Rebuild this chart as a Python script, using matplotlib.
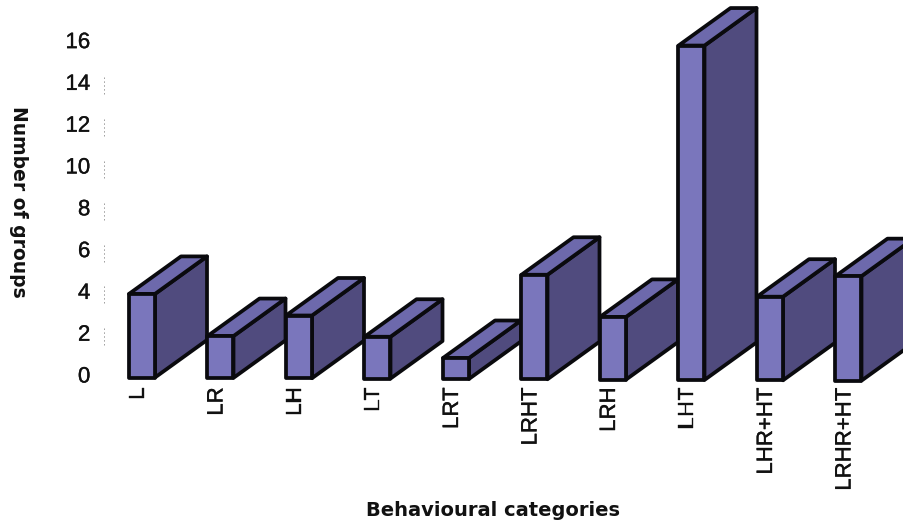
import matplotlib
matplotlib.use("Agg")
import matplotlib.pyplot as plt
import matplotlib.patheffects as pe
from matplotlib.patches import Polygon
from matplotlib.transforms import ScaledTranslation

categories = ["L", "LR", "LH", "LT", "LRT", "LRHT", "LRH", "LHT", "LHR+HT", "LRHR+HT"]
group_counts = [4, 2, 3, 2, 1, 5, 3, 16, 4, 5]
y_ticks = [0, 2, 4, 6, 8, 10, 12, 14, 16]

plt.rcParams["font.family"] = ["Liberation Sans", "DejaVu Sans"]

W, H = 904, 523
fig = plt.figure(figsize=(W / 100, H / 100), dpi=100, facecolor="white")

# Axes box in pixels; the bars spill freely around the category slots
left_px, right_px, base_px = 104, 904, 377.5
ax = fig.add_axes([left_px / W, (H - base_px) / H, (right_px - left_px) / W, base_px / H])
px_per_cat = 78.5
px_per_unit = 20.9
first_center_px = 142
ax.set_xlim((left_px - first_center_px) / px_per_cat, (right_px - first_center_px) / px_per_cat)
ax.set_ylim(0, base_px / px_per_unit)
ax.patch.set_alpha(0)
for s in ax.spines.values():
    s.set_visible(False)

half_w = 13 / px_per_cat
depth_x = 52 / px_per_cat
depth_y = 37.5 / px_per_unit
tilt = -0.35 / px_per_unit  # the baseline sags slightly to the right

FRONT, SIDE, TOP = "#7A76BC", "#504B7E", "#6D69AC"
EDGE = "#0A0A0E"
for i, v in enumerate(group_counts):
    b = i * tilt
    l, r = i - half_w, i + half_w
    t = b + v
    faces = [
        ([(r, b), (r + depth_x, b + depth_y), (r + depth_x, t + depth_y), (r, t)], SIDE),
        ([(l, t), (r, t), (r + depth_x, t + depth_y), (l + depth_x, t + depth_y)], TOP),
        ([(l, b), (r, b), (r, t), (l, t)], FRONT),
    ]
    for pts, col in faces:
        ax.add_patch(Polygon(pts, closed=True, facecolor=col, edgecolor=EDGE,
                             linewidth=2.7, joinstyle="round", clip_on=False, zorder=3 + i))

# Tick labels are slightly heavier than the regular weight
heavy = [pe.withStroke(linewidth=0.25, foreground="#111111")]
ax.set_xticks(range(len(categories)), categories, rotation=90, fontsize=16, ha="center", va="top")
ax.set_yticks(y_ticks, [str(t) for t in y_ticks], fontsize=16, color="#111111")
ax.tick_params(axis="x", length=0, pad=7, labelcolor="#111111")
ax.tick_params(axis="y", length=0, pad=12)
shift_y = ScaledTranslation(3 / 100, 3 / 100, fig.dpi_scale_trans)
for lab in ax.get_yticklabels():
    lab.set_transform(lab.get_transform() + shift_y)
    lab.set_path_effects(heavy)
shift_x = ScaledTranslation(-3.5 / 100, 0, fig.dpi_scale_trans)
for lab in ax.get_xticklabels():
    lab.set_transform(lab.get_transform() + shift_x)
    lab.set_path_effects(heavy)

# Worn remains of the value axis: faint broken marks next to each number
trans = ax.get_yaxis_transform()
for t in y_ticks[1:-1]:
    ax.plot([0, 0], [t - 0.45, t + 0.45], transform=trans, color="#9a9a9a",
            lw=0.7, ls=(0, (1.5, 2.5)), clip_on=False, zorder=1)

fig.text(493 / W, 1 - 511 / H, "Behavioural categories", ha="center", va="center",
         fontsize=14, fontweight="bold", family="DejaVu Sans", color="#111111")
fig.text(18 / W, 1 - 202 / H, "Number of groups", ha="center", va="center", rotation=270,
         fontsize=13.5, fontweight="bold", family="DejaVu Sans", color="#111111")

fig.savefig("out.png", dpi=100)
